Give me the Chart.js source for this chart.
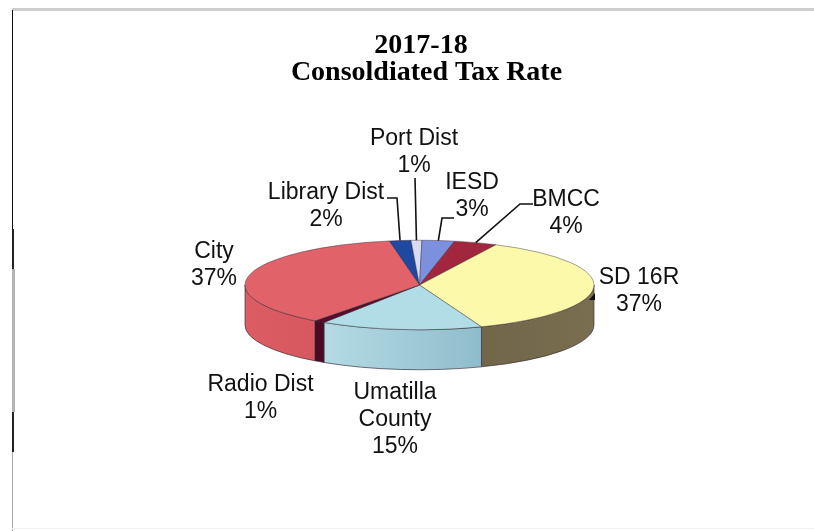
<!DOCTYPE html>
<html>
<head>
<meta charset="utf-8">
<style>
  html, body { margin: 0; padding: 0; background: #fff; }
  #wrap { position: relative; width: 814px; height: 531px; overflow: hidden; }
  #wrap div { position: absolute; }
  #frameTop { left: 12px; right: 0; top: 8px; height: 3px; background: #cdcdcd; }
  #frameLeft { left: 12px; top: 10px; bottom: 0; width: 1px; background: #a8a8a8; }
  #frameBottom { left: 12px; right: 0; bottom: 2px; height: 1px; background: #f0f0f0; }
</style>
</head>
<body>
<div id="wrap">
  <canvas id="chart" width="814" height="531"></canvas>
  <div id="frameTop"></div>
  <div id="frameLeft"></div>
  <div style="left:12px;top:10px;width:1px;height:220px;background:#111"></div>
  <div style="left:12px;top:229px;width:2px;height:40px;background:#222"></div>
  <div style="left:12px;top:269px;width:3px;height:143px;background:#b4b4b4"></div>
  <div style="left:12px;top:412px;width:2px;height:40px;background:#222"></div>
  <div style="left:589px;top:293px;width:6px;height:7px;background:#111;clip-path:polygon(100% 0,100% 100%,0 100%)"></div>
  <div id="frameBottom"></div>
</div>
<script src="https://cdn.jsdelivr.net/npm/chart.js@4"></script>
<script>
// Levy shares by taxing district, clockwise from the back of the pie
const districts = ['Library Dist', 'Port Dist', 'IESD', 'BMCC', 'SD 16R', 'Umatilla County', 'Radio Dist', 'City'];
const shares = [2, 1, 3, 4, 37, 15, 1, 37];
const topColors = ['#1f48a0', '#d8dcf2', '#7c90de', '#a3263f', '#fdf9aa', '#b0dde6', '#5a0c2c', '#e2626a'];
const wallColors = ['#12306e', '#9a9db0', '#54629c', '#6e1a2a', '#71664a', '#b4dbe4', '#4a0a24', '#dc5c64'];
const wallShade = ['#12306e', '#9a9db0', '#54629c', '#6e1a2a', '#7a6e50', '#8fbccc', '#4a0a24', '#d8585f'];
const titleLines = ['2017-18', 'Consoldiated Tax Rate'];

// Title placement, line by line: [centre x, baseline y]
const titlePlacement = [[421, 53], [426.5, 80]];

// Label wrapping and placement, per district
const labelLines = [['Library Dist'], ['Port Dist'], ['IESD'], ['BMCC'], ['SD 16R'], ['Umatilla', 'County'], ['Radio Dist'], ['City']];
const labelCentres = [[326, 193], [414, 139], [472, 183], [566, 200], [639, 278], [395, 393], [260.5, 385], [214, 252]];
const leaderPaths = [
  [[387, 198], [397, 198]],
  [[415, 178]],
  [[454, 218], [442, 218]],
  [[533, 204], [520, 204]],
  null, null, null, null
];

const TILT = 45 / 175.5;   // vertical squash of the pie
const DEPTH = 40;          // height of the extruded wall
const LINE_HEIGHT = 27;

// Squash the library's round pie into an ellipse and extrude a wall under it
const tiltedPie = {
  id: 'tiltedPie',
  beforeDatasetsDraw(chart) {
    const { ctx } = chart;
    const arcs = chart.getDatasetMeta(0).data;
    const { x: cx, y: cy } = arcs[0];
    ctx.save();
    arcs.forEach((arc, i) => {
      const { startAngle, endAngle, outerRadius: r } = arc.getProps(['startAngle', 'endAngle', 'outerRadius'], true);
      // Only the part facing the viewer (sin > 0) shows a wall
      const turn = Math.PI * 2;
      for (const k of [-1, 0, 1]) {
        const a0 = Math.max(startAngle + k * turn, 0);
        const a1 = Math.min(endAngle + k * turn, Math.PI);
        if (a1 <= a0) continue;
        const xL = cx + r * Math.cos(a1), xR = cx + r * Math.cos(a0);
        const g = ctx.createLinearGradient(xL, 0, xR, 0);
        g.addColorStop(0, wallColors[i]);
        g.addColorStop(1, wallShade[i]);
        ctx.beginPath();
        ctx.ellipse(cx, cy, r, r * TILT, 0, a0, a1);
        ctx.ellipse(cx, cy + DEPTH, r, r * TILT, 0, a1, a0, true);
        ctx.closePath();
        ctx.fillStyle = g;
        ctx.fill();
        ctx.strokeStyle = 'rgba(50,40,50,0.65)';
        ctx.lineWidth = 1;
        ctx.stroke();
      }
    });
    ctx.restore();
    ctx.save();
    ctx.translate(cx, cy);
    ctx.scale(1, TILT);
    ctx.translate(-cx, -cy);
  },
  afterDatasetsDraw(chart) {
    chart.ctx.restore();
  },
  afterDraw(chart) {
    const { ctx } = chart;
    const arcs = chart.getDatasetMeta(0).data;
    ctx.save();
    // Leader lines run from each label to the rim of its slice
    ctx.strokeStyle = '#111';
    ctx.lineWidth = 1.6;
    arcs.forEach((arc, i) => {
      const path = leaderPaths[i];
      if (!path) return;
      const mid = (arc.startAngle + arc.endAngle) / 2;
      const rimX = arc.x + arc.outerRadius * Math.cos(mid);
      const rimY = arc.y + arc.outerRadius * TILT * Math.sin(mid);
      ctx.beginPath();
      path.forEach(([x, y], n) => (n ? ctx.lineTo(x, y) : ctx.moveTo(x, y)));
      ctx.lineTo(rimX, rimY);
      ctx.stroke();
    });
    // Category name above its percentage
    ctx.fillStyle = '#111';
    ctx.font = '23px "Liberation Sans", Arial, sans-serif';
    ctx.textAlign = 'center';
    ctx.textBaseline = 'middle';
    arcs.forEach((arc, i) => {
      const [x, y] = labelCentres[i];
      const lines = [...labelLines[i], shares[i] + '%'];
      lines.forEach((text, n) => ctx.fillText(text, x, y + n * LINE_HEIGHT));
    });
    // Two-line heading, each line on its own centre
    ctx.fillStyle = '#000';
    ctx.font = 'bold 28px "Liberation Serif", "Times New Roman", serif';
    ctx.textBaseline = 'alphabetic';
    titleLines.forEach((text, n) => ctx.fillText(text, titlePlacement[n][0], titlePlacement[n][1]));
    ctx.restore();
  }
};

new Chart(document.getElementById('chart'), {
  type: 'pie',
  data: {
    labels: districts,
    datasets: [{
      data: shares,
      backgroundColor: topColors,
      borderColor: 'rgba(50,40,50,0.7)',
      borderWidth: 1,
      borderAlign: 'center'
    }]
  },
  options: {
    responsive: false,
    animation: false,
    rotation: -10,
    layout: { padding: { left: 244, right: 219, top: 110, bottom: 71 } },
    plugins: {
      legend: { display: false },
      tooltip: { enabled: false },
      title: { display: false }
    }
  },
  plugins: [tiltedPie]
});
</script>
</body>
</html>
